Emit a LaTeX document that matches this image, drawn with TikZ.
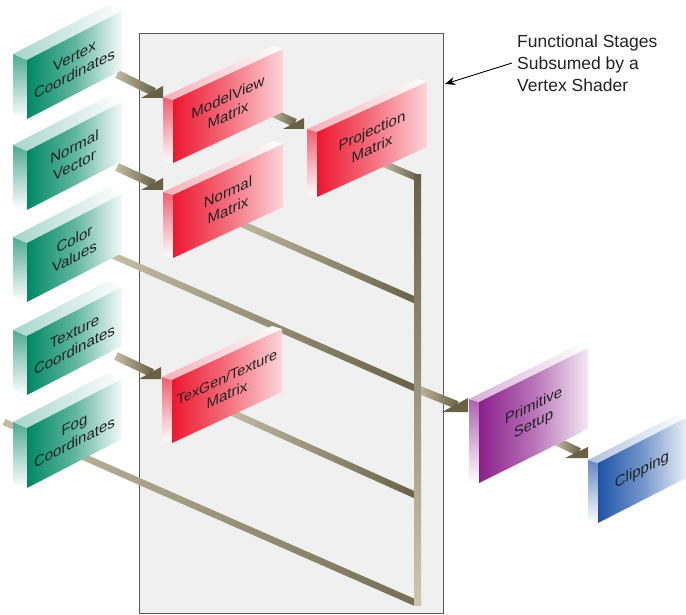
\documentclass[tikz,border=0pt]{standalone}
\usepackage{fontspec}
\setmainfont{Liberation Sans}
\usetikzlibrary{calc,arrows.meta}
\definecolor{grn}{RGB}{0,136,102}
\definecolor{redb}{RGB}{236,24,48}
\definecolor{purp}{RGB}{140,30,140}
\definecolor{blu}{RGB}{30,84,168}
\definecolor{bardark}{RGB}{104,97,70}
\definecolor{barlight}{RGB}{196,188,164}
\definecolor{panelgray}{RGB}{240,240,240}
\definecolor{ink}{RGB}{35,35,35}
\tikzset{
  boxlabel/.style={font=\fontsize{15}{18}\selectfont, text=ink, align=center, inner sep=0pt, transform shape},
  notetext/.style={font=\fontsize{17.5}{22}\selectfont, text=ink, align=left, inner sep=0pt},
  panelbox/.style={draw=black!65, line width=1pt, fill=panelgray, inner sep=0pt},
}
\newcommand\gslab[8]{%
  \pgfmathsetmacro\sxr{#2+#4}%
  \pgfmathsetmacro\syr{#3-#6}%
  \pgfmathsetmacro\syb{#3+#5}%
  \pgfmathsetmacro\syrb{#3-#6+#5}%
  \pgfmathsetmacro\sxl{#2-\sdx}%
  \pgfmathsetmacro\syl{#3-\sdy}%
  \pgfmathsetmacro\sylb{#3+#5-\sdy}%
  \pgfmathsetmacro\sxrl{#2+#4-\sdx}%
  \pgfmathsetmacro\syrl{#3-#6-\sdy}%
  \pgfmathsetmacro\scx{#2+#4/2}%
  \pgfmathsetmacro\scy{#3-#6/2+#5/2}%
  \pgfmathsetmacro\sslope{#6/#4}%
  \shade[top color=#7!70!white, bottom color=white] (\sxl,\syl) -- (#2,#3) -- (#2,\syb) -- (\sxl,\sylb) -- cycle;
  \shade[left color=#7!35!white, right color=white] (\sxl,\syl) -- (#2,#3) -- (\sxr,\syr) -- (\sxrl,\syrl) -- cycle;
  \shade[left color=#7, right color=#7!\sfade!white, middle color=#7!62!white] (#2,#3) -- (\sxr,\syr) -- (\sxr,\syrb) -- (#2,\syb) -- cycle;
  \node[boxlabel, yslant=\sslope] (#1) at (\scx,\scy) {#8};
}
\newcommand\barseg[4]{\shade[#4] ($(#1)!#3!90:(#2)$) -- ($(#2)!#3!-90:(#1)$) -- ($(#2)!#3!90:(#1)$) -- ($(#1)!#3!-90:(#2)$) -- cycle;}
\newcommand\parrow[5]{%
  \barseg{#1}{#5}{4.2pt}{left color=barlight, right color=bardark}
  \fill[bardark] (#2) -- ++(0,-#3) -- ++(-#4,#3) -- cycle;}
\begin{document}
\begin{tikzpicture}[x=1pt,y=-1pt]
\useasboundingbox[fill=white] (0,0) rectangle (686,615);
% panel
\node[panelbox, minimum width=304pt, minimum height=580pt, anchor=north west] (panel) at (139,33) {};
% connector coordinates
\coordinate (pm-out) at (382,163);
\coordinate (bus-top) at (417.5,178);
\coordinate (bus-bot) at (417.5,605);
\coordinate (nm-out) at (228,218);
\coordinate (nm-in) at (415,300);
\coordinate (tg-out) at (226,410);
\coordinate (tg-in) at (415,495);
\coordinate (fc-tail) at (4,422);
\coordinate (fc-in) at (416,603);
\coordinate (cv-out) at (112,255);
\coordinate (cv-mid) at (417,389);
\coordinate (cv-end) at (457,405);
\coordinate (ps-tip) at (468,412);
% bars
\barseg{fc-tail}{fc-in}{3.3pt}{left color=barlight, right color=bardark!85!barlight}
\barseg{cv-out}{cv-mid}{3.3pt}{left color=barlight, right color=bardark}
\barseg{cv-mid}{cv-end}{4pt}{left color=barlight, right color=bardark}
\fill[bardark] (ps-tip) -- ++(0,-14) -- ++(-26,14) -- cycle;
\barseg{nm-out}{nm-in}{3.3pt}{left color=barlight, right color=bardark}
\barseg{tg-out}{tg-in}{3.3pt}{left color=barlight, right color=bardark}
\barseg{pm-out}{bus-top}{3.3pt}{left color=barlight, right color=bardark}
\shade[top color=bardark, bottom color=barlight!85!white] (414,175) rectangle (421,605);
% arrows
\coordinate (a1t) at (117,74);  \coordinate (a1h) at (163,98);  \coordinate (a1e) at (154,92);
\coordinate (a2t) at (117,167); \coordinate (a2h) at (163,190); \coordinate (a2e) at (154,184);
\coordinate (a3t) at (116,356); \coordinate (a3h) at (161,379); \coordinate (a3e) at (152,373);
\coordinate (a4t) at (271,112); \coordinate (a4h) at (304,129); \coordinate (a4e) at (295,123);
\coordinate (a5t) at (556,441); \coordinate (a5h) at (588,458); \coordinate (a5e) at (579,452);
\parrow{a1t}{a1h}{12}{22}{a1e}
\parrow{a2t}{a2h}{12}{22}{a2e}
\parrow{a3t}{a3h}{12}{22}{a3e}
\parrow{a4t}{a4h}{11}{21}{a4e}
\parrow{a5t}{a5h}{11}{23}{a5e}
% boxes
\def\sdx{14}\def\sdy{6}\def\sfade{4}
\gslab{vc}{27}{60}{95}{59}{49}{grn}{Vertex\\Coordinates}
\gslab{nv}{27}{151}{95}{59}{49}{grn}{Normal\\Vector}
\gslab{cv}{27}{243}{95}{59}{49}{grn}{Color\\Values}
\gslab{tc}{27}{336}{95}{59}{49}{grn}{Texture\\Coordinates}
\gslab{fc}{27}{428}{95}{60}{49}{grn}{Fog\\Coordinates}
\def\sdx{10}\def\sdy{3}\def\sfade{18}
\gslab{mv}{173}{100}{110}{63}{51}{redb}{ModelView\\Matrix}
\gslab{pm}{317}{132}{110}{65}{50}{redb}{Projection\\Matrix}
\gslab{nm}{173}{195}{110}{63}{51}{redb}{Normal\\Matrix}
\gslab{tg}{172}{380}{110}{63}{51}{redb}{\fontsize{14.3}{18}\selectfont TexGen/Texture\\Matrix}
\def\sfade{10}
\gslab{ps}{479}{402}{109}{81}{54}{purp}{Primitive\\Setup}
\gslab{cl}{598}{463}{88}{60}{45}{blu}{Clipping}
% annotation
\node[notetext, anchor=north west] (note) at (517,35) {Functional Stages\\Subsumed by a\\Vertex Shader};
\coordinate (note-ptr) at (512,63);
\coordinate (panel-pt) at (445,84);
\draw[line width=0.9pt, -{Stealth[length=10pt,width=8pt]}] (note-ptr) -- (panel-pt);
\end{tikzpicture}
\end{document}
